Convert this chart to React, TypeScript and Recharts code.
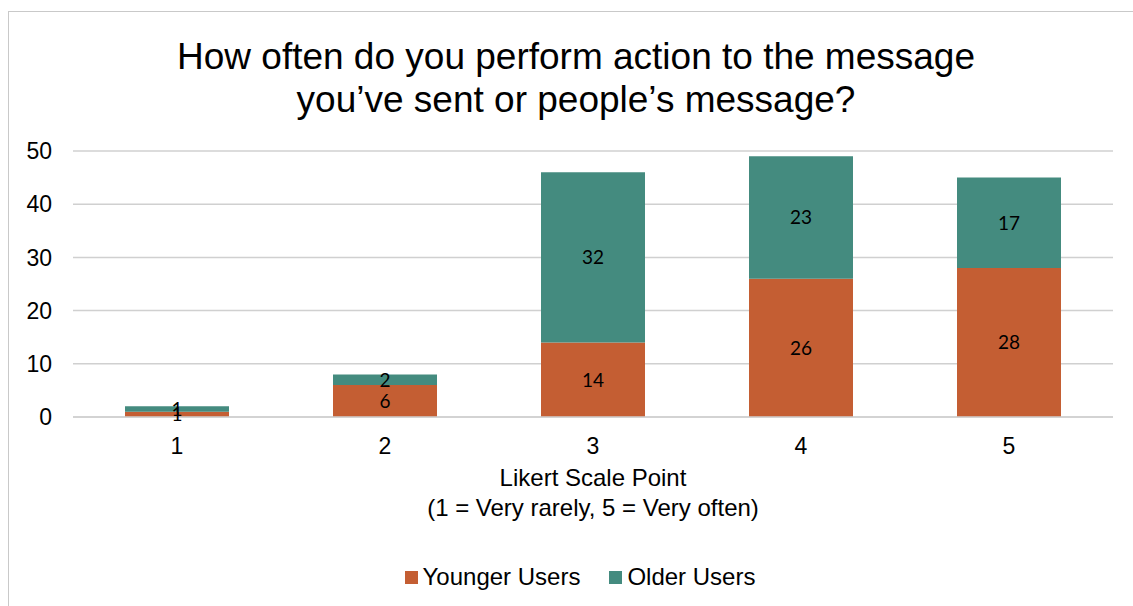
import { BarChart, Bar, XAxis, YAxis, CartesianGrid, LabelList } from 'recharts';

const categories = ['1', '2', '3', '4', '5'];
const youngerUsers = [1, 6, 14, 26, 28];
const olderUsers = [1, 2, 32, 23, 17];
const yTicks = [0, 10, 20, 30, 40, 50];

const data = categories.map((c, i) => ({
  point: c,
  younger: youngerUsers[i],
  older: olderUsers[i],
}));

const ORANGE = '#C45E33';
const TEAL = '#448B7F';
const FONT = '"Liberation Sans", Arial, sans-serif';

function AxisTitle(props: any) {
  const { viewBox } = props;
  const cx = viewBox.x + viewBox.width / 2;
  return (
    <text x={cx} y={viewBox.y + 69} textAnchor="middle" fontFamily={FONT} fontSize={24} fill="#000">
      <tspan x={cx} dy={0}>Likert Scale Point</tspan>
      <tspan x={cx} dy={30}>(1 = Very rarely, 5 = Very often)</tspan>
    </text>
  );
}

export default function App() {
  return (
    <div style={{ position: 'fixed', left: 0, top: 0, width: 1133, height: 606, overflow: 'hidden', background: '#fff' }}>
      <div style={{ position: 'absolute', left: 8, top: 11, width: 1200, height: 700, border: '1.5px solid #c9c9c9', boxSizing: 'border-box' }} />
      <div style={{ position: 'absolute', left: 0, top: 35, width: 1152, textAlign: 'center', fontFamily: FONT, fontSize: 37, lineHeight: '43px', color: '#000' }}>
        How often do you perform action to the message<br />you’ve sent or people’s message?
      </div>
      <div style={{ position: 'absolute', left: 0, top: 0 }}>
        <BarChart width={1133} height={606} data={data} margin={{ top: 151, right: 20, bottom: 159, left: 13 }} barCategoryGap="25%">
          <CartesianGrid vertical={false} stroke="#d0d0d0" strokeWidth={1.5} />
          <XAxis
            dataKey="point"
            height={30}
            axisLine={{ stroke: '#d0d0d0', strokeWidth: 1.5 }}
            tickLine={false}
            tickMargin={15}
            tick={{ fontFamily: FONT, fontSize: 23, fill: '#000' }}
            label={<AxisTitle />}
          />
          <YAxis
            width={60}
            domain={[0, 50]}
            ticks={yTicks}
            axisLine={false}
            tickLine={false}
            tickMargin={15}
            tick={{ fontFamily: FONT, fontSize: 23, fill: '#000' }}
          />
          <Bar dataKey="younger" stackId="a" fill={ORANGE} isAnimationActive={false}>
            <LabelList dataKey="younger" position="center" fill="#000" fontFamily="Lato, sans-serif" fontSize={19} />
          </Bar>
          <Bar dataKey="older" stackId="a" fill={TEAL} isAnimationActive={false}>
            <LabelList dataKey="older" position="center" fill="#000" fontFamily="Lato, sans-serif" fontSize={19} />
          </Bar>
        </BarChart>
      </div>
      <div style={{ position: 'absolute', left: 0, top: 563, width: 1160, display: 'flex', justifyContent: 'center', alignItems: 'center', fontFamily: FONT, fontSize: 24, color: '#000' }}>
        <span style={{ display: 'inline-block', width: 13, height: 13, background: ORANGE, marginRight: 5 }} />
        <span style={{ marginRight: 29 }}>Younger Users</span>
        <span style={{ display: 'inline-block', width: 13, height: 13, background: TEAL, marginRight: 5 }} />
        <span>Older Users</span>
      </div>
    </div>
  );
}
